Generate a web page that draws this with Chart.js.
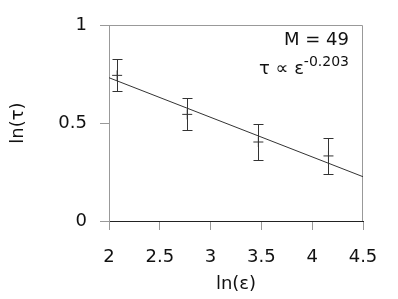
<!DOCTYPE html>
<html>
<head>
<meta charset="utf-8">
<script src="https://cdn.jsdelivr.net/npm/chart.js@4"></script>
<style>
  html, body { margin: 0; padding: 0; background: #fff; }
  #wrap { width: 398px; height: 299px; }
</style>
</head>
<body>
<div id="wrap"><canvas id="chart" width="398" height="299"></canvas></div>
<script>
// ln(eps) and ln(tau) with error bars
const lnEps = [2.08, 2.77, 3.47, 4.16];
const lnTau = [0.743, 0.544, 0.403, 0.332];
const tauErr = [0.081, 0.082, 0.092, 0.093];

// power law fit at the axis ends
const fitX = [2, 4.5];
const fitY = [0.731, 0.226];

const xTicks = [2, 2.5, 3, 3.5, 4, 4.5];
const yTicks = [0, 0.5, 1];

const FONT = "'DejaVu Sans', sans-serif";
const SIZE = 18;

const errorBars = {
    id: 'errorBars',
    afterDatasetsDraw(chart) {
        const { ctx, scales: { x, y } } = chart;
        ctx.save();
        ctx.strokeStyle = '#333';
        ctx.lineWidth = 1;
        lnEps.forEach((v, i) => {
            const px = Math.round(x.getPixelForValue(v)) + 0.5;
            const top = Math.round(y.getPixelForValue(lnTau[i] + tauErr[i])) + 0.5;
            const bot = Math.round(y.getPixelForValue(lnTau[i] - tauErr[i])) + 0.5;
            ctx.beginPath();
            ctx.moveTo(px, top); ctx.lineTo(px, bot);
            ctx.moveTo(px - 5, top); ctx.lineTo(px + 5, top);
            ctx.moveTo(px - 5, bot); ctx.lineTo(px + 5, bot);
            ctx.stroke();
        });
        ctx.restore();
    }
};

const frame = {
    id: 'frame',
    beforeDatasetsDraw(chart) {
        const { ctx, chartArea: a } = chart;
        ctx.save();
        ctx.strokeStyle = '#999';
        ctx.lineWidth = 1;
        ctx.beginPath();
        ctx.moveTo(a.left + 0.5, a.bottom);
        ctx.lineTo(a.left + 0.5, a.top + 0.5);
        ctx.lineTo(a.right - 0.5, a.top + 0.5);
        ctx.lineTo(a.right - 0.5, a.bottom);
        ctx.stroke();
        ctx.restore();
    }
};

const label = {
    id: 'label',
    afterDraw(chart) {
        const ctx = chart.ctx;
        const right = 349;
        ctx.save();
        ctx.fillStyle = '#111';
        ctx.textAlign = 'right';
        ctx.textBaseline = 'alphabetic';
        ctx.font = SIZE + 'px ' + FONT;
        ctx.fillText('M = 49', right, 45);
        ctx.font = '14px ' + FONT;
        const sup = '-0.203';
        const w = ctx.measureText(sup).width;
        ctx.fillText(sup, right, 66);
        ctx.font = SIZE + 'px ' + FONT;
        ctx.fillText('τ ∝ ε', right - w, 74);
        ctx.restore();
    }
};

const tickFont = { family: FONT, size: SIZE };

new Chart(document.getElementById('chart'), {
    type: 'scatter',
    data: {
        datasets: [
            {
                label: 'fit',
                type: 'line',
                data: fitX.map((v, i) => ({ x: v, y: fitY[i] })),
                borderColor: '#333',
                borderWidth: 1,
                pointRadius: 0,
                fill: false,
            },
            {
                label: 'data',
                data: lnEps.map((v, i) => ({ x: v, y: lnTau[i] })),
                pointStyle: 'cross',
                pointRadius: 5,
                borderColor: '#333',
                borderWidth: 1,
            },
        ],
    },
    options: {
        responsive: false,
        animation: false,
        events: [],
        layout: { padding: { left: 0, top: 25, right: 35, bottom: 0 } },
        plugins: { legend: { display: false }, tooltip: { enabled: false } },
        scales: {
            x: {
                type: 'linear',
                min: 2,
                max: 4.5,
                afterBuildTicks: (s) => { s.ticks = xTicks.map(v => ({ value: v })); },
                afterFit: (s) => { s.height = 78; },
                grid: { drawOnChartArea: false, tickLength: 9, color: '#999' },
                border: { color: '#222' },
                ticks: { font: tickFont, color: '#111', padding: 17, maxRotation: 0, callback: v => String(v) },
                title: { display: true, text: 'ln(ε)', font: tickFont, color: '#111', padding: { top: 0, bottom: 4 } },
            },
            y: {
                type: 'linear',
                min: 0,
                max: 1,
                afterBuildTicks: (s) => { s.ticks = yTicks.map(v => ({ value: v })); },
                afterFit: (s) => { s.width = 109; },
                grid: { drawOnChartArea: false, tickLength: 9, color: '#999' },
                border: { color: '#999' },
                ticks: { font: tickFont, color: '#111', padding: 13, callback: v => String(v) },
                title: { display: true, text: 'ln(τ)', font: tickFont, color: '#111', padding: { top: 8, bottom: 0 } },
            },
        },
    },
    plugins: [frame, errorBars, label],
});
</script>
</body>
</html>
